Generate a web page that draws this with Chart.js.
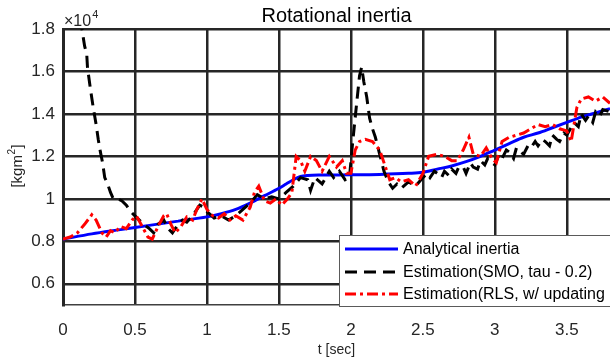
<!DOCTYPE html>
<html>
<head>
<meta charset="utf-8">
<script src="https://cdn.jsdelivr.net/npm/chart.js@4"></script>
<style>
html,body{margin:0;padding:0;background:#fff;}
canvas{display:block;}
</style>
</head>
<body>
<canvas id="c" width="610" height="363"></canvas>
<script>
// ---- data (values in units of 1e4 kgm^2) ----
const xTicks = [0, 0.5, 1, 1.5, 2, 2.5, 3, 3.5];
const yTicks = [0.6, 0.8, 1, 1.2, 1.4, 1.6, 1.8];
const seriesNames = ['Analytical inertia', 'Estimation(SMO, tau - 0.2)', 'Estimation(RLS, w/ updating'];

const tAnalytical = [0,0.2,0.4,0.6,0.8,1.0,1.1,1.2,1.3,1.4,1.5,1.55,1.6,1.65,1.7,1.8,2.0,2.2,2.4,2.5,2.6,2.7,2.8,2.9,3.0,3.1,3.2,3.3,3.4,3.5,3.6,3.7,3.8];
const vAnalytical = [0.81,0.835,0.855,0.875,0.895,0.915,0.93,0.95,0.98,1.015,1.05,1.07,1.09,1.105,1.11,1.112,1.113,1.115,1.12,1.125,1.14,1.155,1.175,1.2,1.23,1.26,1.29,1.31,1.335,1.36,1.385,1.405,1.425];

const tSMO = [0.12,0.15,0.165,0.17,0.19,0.21,0.23,0.245,0.26,0.275,0.29,0.31,0.33,0.35,0.38,0.41,0.44,0.47,0.5,0.53,0.56,0.6,0.63,0.66,0.7,0.73,0.76,0.8,0.83,0.86,0.9,0.95,0.98,1.0,1.05,1.1,1.15,1.2,1.25,1.3,1.35,1.4,1.45,1.5,1.55,1.6,1.65,1.7,1.72,1.75,1.8,1.85,1.88,1.92,1.96,1.99,2.01,2.04,2.06,2.075,2.09,2.11,2.13,2.15,2.17,2.2,2.23,2.26,2.29,2.32,2.35,2.4,2.45,2.5,2.53,2.55,2.58,2.6,2.63,2.65,2.68,2.7,2.73,2.75,2.78,2.8,2.83,2.85,2.88,2.9,2.93,2.95,2.98,3.0,3.03,3.05,3.08,3.1,3.13,3.15,3.18,3.2,3.23,3.25,3.28,3.3,3.33,3.35,3.38,3.4,3.43,3.45,3.48,3.5,3.55,3.58,3.6,3.63,3.65,3.68,3.7,3.73,3.75,3.8];
const vSMO = [1.85,1.72,1.68,1.62,1.52,1.43,1.35,1.28,1.22,1.17,1.1,1.07,1.03,1.0,1.0,0.99,0.97,0.94,0.92,0.9,0.88,0.86,0.84,0.88,0.9,0.86,0.84,0.88,0.9,0.89,0.92,0.97,0.96,0.94,0.91,0.92,0.9,0.92,0.95,0.98,1.02,1.0,1.01,1.0,1.03,1.06,1.1,1.09,1.04,1.1,1.07,1.13,1.1,1.13,1.09,1.1,1.25,1.45,1.58,1.62,1.55,1.48,1.38,1.33,1.29,1.21,1.13,1.08,1.05,1.07,1.05,1.08,1.06,
  1.1,1.12,1.1,1.13,1.12,1.1,1.13,1.11,1.14,1.12,1.15,1.15,1.12,1.17,1.15,1.14,1.18,1.16,1.19,1.17,1.16,1.21,1.19,1.23,1.22,1.19,1.24,1.22,1.21,1.25,1.24,1.27,1.25,1.28,1.27,1.25,1.3,1.28,1.27,1.31,1.3,1.36,1.34,1.4,1.37,1.39,1.36,1.41,1.39,1.42,1.41];

const tRLS = [0,0.05,0.1,0.15,0.2,0.23,0.27,0.3,0.33,0.36,0.4,0.44,0.48,0.51,0.55,0.59,0.62,0.66,0.7,0.72,0.75,0.78,0.82,0.86,0.9,0.93,0.965,1.0,1.04,1.08,1.12,1.16,1.2,1.25,1.3,1.33,1.36,1.4,1.44,1.48,1.52,1.56,1.59,1.62,1.65,1.68,1.72,1.76,1.8,1.85,1.9,1.94,1.97,2.0,2.03,2.06,2.1,2.15,2.2,2.24,2.27,2.31,2.35,2.4,2.45,2.5,2.54,2.6,2.65,2.7,2.74,2.78,2.82,2.85,2.9,2.94,2.98,3.01,3.05,3.1,3.15,3.2,3.25,3.3,3.35,3.4,3.45,3.5,3.53,3.57,3.6,3.65,3.7,3.75,3.8];
const vRLS = [0.81,0.82,0.84,0.88,0.925,0.9,0.84,0.82,0.85,0.84,0.87,0.86,0.9,0.92,0.87,0.82,0.81,0.87,0.92,0.93,0.88,0.84,0.87,0.915,0.9,0.95,1.0,0.95,0.92,0.91,0.93,0.9,0.92,0.9,0.96,1.03,1.06,0.99,0.98,1.0,0.97,1.0,1.03,1.2,1.18,1.13,1.2,1.18,1.13,1.2,1.15,1.18,1.12,1.12,1.23,1.27,1.28,1.27,1.23,1.15,1.09,1.1,1.08,1.09,1.06,1.12,1.2,1.21,1.2,1.18,1.18,1.23,1.29,1.21,1.2,1.24,1.19,1.17,1.27,1.29,1.3,1.31,1.33,1.35,1.34,1.35,1.33,1.32,1.27,1.43,1.47,1.48,1.46,1.48,1.45];

const FONT = '"Liberation Sans", Arial, Helvetica, sans-serif';
const toXY = (ts, vs) => ts.map((t, i) => ({x: t, y: vs[i]}));

const styles = [
  {color: '#0000ff', dash: []},
  {color: '#000000', dash: [12, 7]},
  {color: '#ff0000', dash: [11, 4, 3, 4]}
];

const overlay = {
  id: 'overlay',
  afterDraw(chart) {
    const ctx = chart.ctx;
    const ca = chart.chartArea;
    ctx.save();
    // title
    ctx.fillStyle = '#000';
    ctx.font = '20px ' + FONT;
    ctx.textAlign = 'center';
    ctx.textBaseline = 'alphabetic';
    ctx.fillText('Rotational inertia', (ca.left + ca.right) / 2, 22);
    // exponent
    ctx.fillStyle = '#262626';
    ctx.textAlign = 'left';
    ctx.font = '16px ' + FONT;
    ctx.fillText('\u00d710', 64, 26);
    const w = ctx.measureText('\u00d710').width;
    ctx.font = '11px ' + FONT;
    ctx.fillText('4', 64 + w + 1, 18);
    // x label
    ctx.font = '14px ' + FONT;
    ctx.textAlign = 'center';
    ctx.textBaseline = 'middle';
    ctx.fillText('t [sec]', (ca.left + ca.right) / 2, 350);
    // y label with superscript
    ctx.save();
    ctx.translate(22, 166);
    ctx.rotate(-Math.PI / 2);
    ctx.textAlign = 'left';
    ctx.textBaseline = 'alphabetic';
    ctx.font = '15px ' + FONT;
    const a = '[kgm', b = ']';
    const wa = ctx.measureText(a).width;
    ctx.font = '10px ' + FONT;
    const ws = ctx.measureText('2').width;
    ctx.font = '15px ' + FONT;
    const wb = ctx.measureText(b).width;
    const x0 = -(wa + ws + 1 + wb) / 2;
    ctx.fillText(a, x0, 0);
    ctx.font = '10px ' + FONT;
    ctx.fillText('2', x0 + wa + 0.5, -7);
    ctx.font = '15px ' + FONT;
    ctx.fillText(b, x0 + wa + ws + 1, 0);
    ctx.restore();
    // legend
    const lx = 339, ly = 235, lw = 280, lh = 71;
    ctx.fillStyle = '#ffffff';
    ctx.fillRect(lx, ly, lw, lh);
    ctx.strokeStyle = '#5a5a5a';
    ctx.lineWidth = 1;
    ctx.strokeRect(lx + 0.5, ly + 0.5, lw, lh);
    const rows = [249, 272, 294];
    ctx.font = '16px ' + FONT;
    ctx.textAlign = 'left';
    ctx.textBaseline = 'middle';
    seriesNames.forEach((name, i) => {
      ctx.strokeStyle = styles[i].color;
      ctx.lineWidth = 3;
      ctx.setLineDash(styles[i].dash);
      ctx.beginPath();
      ctx.moveTo(345, rows[i]);
      ctx.lineTo(398, rows[i]);
      ctx.stroke();
      ctx.setLineDash([]);
      ctx.fillStyle = '#000';
      ctx.fillText(name, 403, rows[i] + 1);
    });
    ctx.restore();
  }
};

new Chart(document.getElementById('c'), {
  type: 'line',
  data: {
    datasets: [
      {label: seriesNames[0], data: toXY(tAnalytical, vAnalytical), borderColor: styles[0].color, borderWidth: 3, pointRadius: 0, cubicInterpolationMode: 'monotone', order: 3},
      {label: seriesNames[1], data: toXY(tSMO, vSMO), borderColor: styles[1].color, borderWidth: 3, borderDash: styles[1].dash, pointRadius: 0, tension: 0, order: 2},
      {label: seriesNames[2], data: toXY(tRLS, vRLS), borderColor: styles[2].color, borderWidth: 3, borderDash: styles[2].dash, pointRadius: 0, tension: 0, order: 1}
    ]
  },
  options: {
    responsive: false,
    animation: false,
    events: [],
    layout: {padding: {top: 29, left: 0, right: 0, bottom: 0}},
    plugins: {legend: {display: false}, title: {display: false}, tooltip: {enabled: false}},
    scales: {
      x: {
        type: 'linear', min: 0, max: 3.8,
        afterBuildTicks: s => { s.ticks = xTicks.map(v => ({value: v})); },
        afterFit: s => { s.height = 58; },
        grid: {color: '#262626', lineWidth: 2.5, drawTicks: false},
        border: {display: true, color: '#404040', width: 1.5},
        ticks: {padding: 15, color: '#262626', font: {size: 17, family: FONT}, maxRotation: 0, autoSkip: false, callback: v => String(v)}
      },
      y: {
        type: 'linear', min: 0.5, max: 1.8,
        afterBuildTicks: s => { s.ticks = yTicks.map(v => ({value: v})); },
        afterFit: s => { s.width = 63; },
        grid: {color: '#262626', lineWidth: 2.5, drawTicks: false},
        border: {display: true, color: '#262626', width: 3},
        ticks: {padding: 8, color: '#262626', font: {size: 17, family: FONT}, autoSkip: false, callback: v => String(v)}
      }
    }
  },
  plugins: [overlay]
});
</script>
</body>
</html>
